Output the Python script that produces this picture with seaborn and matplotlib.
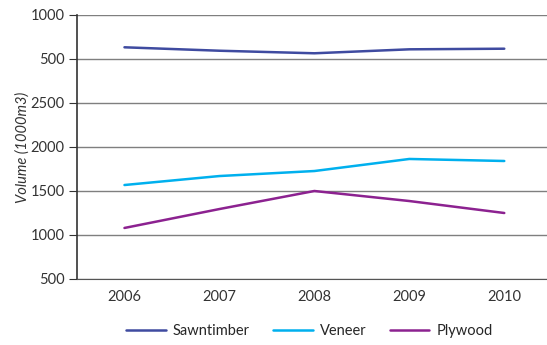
import pandas as pd
import seaborn as sns
import matplotlib.pyplot as plt

years = ["2006", "2007", "2008", "2009", "2010"]
sawntimber = [3133, 3094, 3065, 3110, 3117]
veneer = [1568, 1670, 1727, 1864, 1841]
plywood = [1080, 1295, 1500, 1386, 1250]
series = ["Sawntimber", "Veneer", "Plywood"]
colors = ["#3f4ba0", "#00b0ee", "#8c2290"]
ytick_values = [500, 1000, 1500, 2000, 2500, 3000, 3500]
ytick_labels = ["500", "1000", "1500", "2000", "2500", "500", "1000"]

df = pd.DataFrame({
    "Year": years * 3,
    "Volume": sawntimber + veneer + plywood,
    "Product": [s for s in series for _ in years],
})
df["x"] = df["Year"].map({y: i for i, y in enumerate(years)})

sns.set_style("white")
plt.rcParams["font.family"] = ["Lato", "DejaVu Sans"]

fig = plt.figure(figsize=(5.47, 3.45), dpi=100)
ax = fig.add_axes([77 / 547, 1 - 279 / 345, 470 / 547, 264 / 345])

sns.lineplot(data=df, x="x", y="Volume", hue="Product", palette=colors,
             linewidth=1.8, ax=ax, legend=True)

ax.set_xlim(-0.5, 4.45)
ax.set_ylim(500, 3500)
ax.set_yticks(ytick_values)
ax.set_yticklabels(ytick_labels, fontsize=10.5, color="#333333")
ax.yaxis.grid(True, color="#7f7f7f", linewidth=1)
ax.set_axisbelow(True)

ax.set_xticks([0.5, 1.5, 2.5, 3.5])
ax.set_xticklabels([])
ax.set_xticks(range(5), minor=True)
ax.set_xticklabels(years, minor=True, fontsize=10.5, color="#333333")
ax.tick_params(axis="x", which="major", direction="in", length=4, color="#333333")
ax.tick_params(axis="x", which="minor", length=0, pad=8)
ax.tick_params(axis="y", direction="out", length=6, color="#333333", left=True, pad=3)

for side in ["top", "right"]:
    ax.spines[side].set_visible(False)
ax.spines["left"].set_color("#333333")
ax.spines["bottom"].set_color("#555555")
ax.spines["left"].set_linewidth(1.2)

ax.set_xlabel("")
ax.set_ylabel("Volume (1000m3)", fontsize=10.5, style="italic", color="#333333")
ax.yaxis.set_label_coords(-0.1, 0.5)

ax.legend(loc="upper center", bbox_to_anchor=(0.495, -0.12), ncol=3, frameon=False,
          fontsize=10.5, handlelength=2.7, handletextpad=0.5, columnspacing=1.6,
          title=None)

fig.savefig("out.png", dpi=100)
